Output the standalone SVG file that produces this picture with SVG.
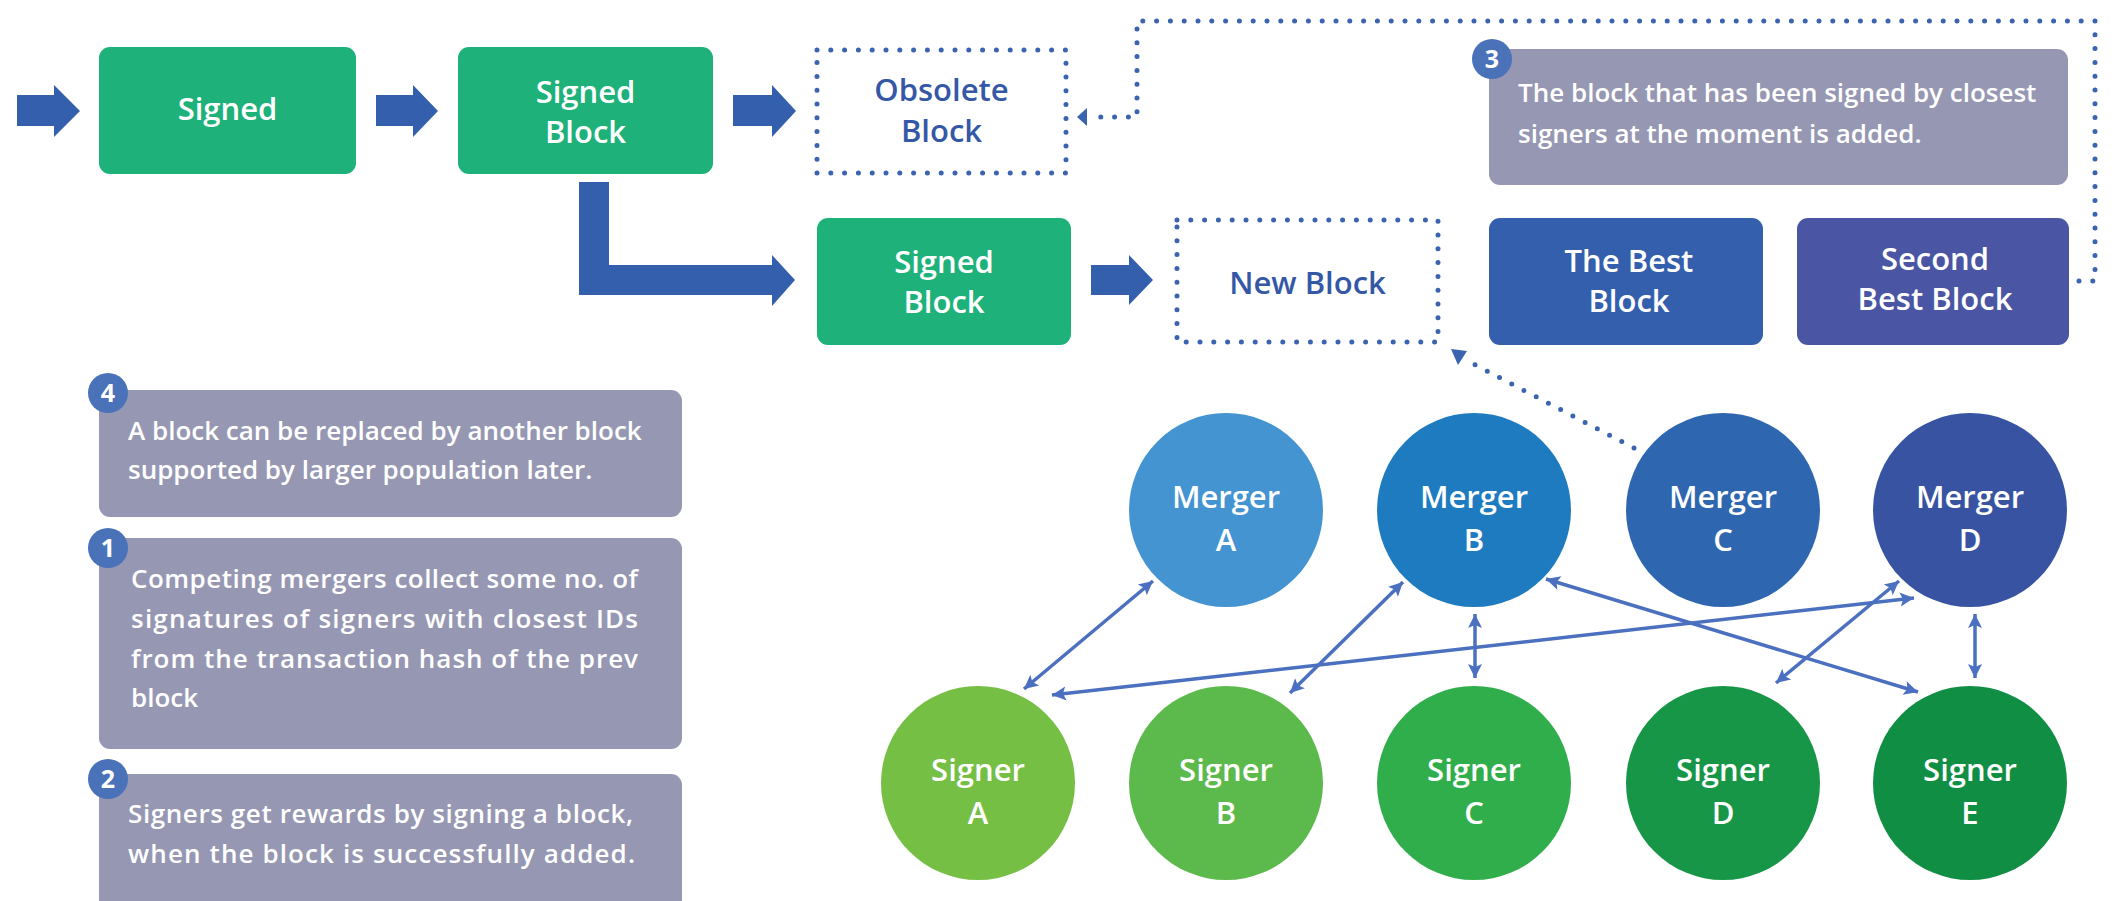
<svg xmlns="http://www.w3.org/2000/svg" width="2117" height="901" viewBox="0 0 2117 901">
<style>
text{font-family:"Open Sans","Liberation Sans",sans-serif;font-weight:600}
.w{fill:#ffffff}
.lbl{font-size:31px;text-anchor:middle}
.blue{fill:#3558a6}
.note{font-size:26px;fill:#ffffff}
.badge{fill:#4a72b9}
.bnum{font-size:25px;fill:#ffffff;text-anchor:middle;font-weight:700}
.gray{fill:#9697b2}
.green{fill:#1eb17a}
.fat{fill:#345fad}
.dots{fill:none;stroke:#3a63b0;stroke-width:5;stroke-linecap:round;stroke-dasharray:0 13.8}
.thin{fill:none;stroke:#4a70bf;stroke-width:3.5;marker-start:url(#ah);marker-end:url(#ah)}
</style>
<defs>
<marker id="ah" markerUnits="userSpaceOnUse" markerWidth="18" markerHeight="18" viewBox="0 0 18 18" refX="16" refY="9" orient="auto-start-reverse">
<path d="M16 9 L2 2 L5 9 L2 16 Z" fill="#4a70bf"/>
</marker>
</defs>

<g id="connectors">
<polygon class="fat" points="17,95 54,95 54,85 80,111 54,137 54,126 17,126"/>
<polygon class="fat" points="376,95 413,95 413,85 438,111 413,137 413,126 376,126"/>
<polygon class="fat" points="733,95 772,95 772,85 796,111 772,137 772,126 733,126"/>
<polygon class="fat" points="579,182 609,182 609,265 772,265 772,255 795,280 772,306 772,295 579,295"/>
<polygon class="fat" points="1091,265 1129,265 1129,255 1153,280 1129,305 1129,295 1091,295"/>
<path class="dots" d="M2079 281 L2095 281 L2095 21 L1137 21 L1137 117 L1096 117"/>
<path d="M1087 108 L1077 117 L1087 126 Z" fill="#3a63b0"/>
<path class="dots" d="M1634 448 L1464 359"/>
<path d="M1451 349 L1467 351 L1458 365 Z" fill="#3a63b0"/>
<line class="thin" x1="1153" y1="581" x2="1024" y2="689"/>
<line class="thin" x1="1403" y1="582" x2="1290" y2="693"/>
<line class="thin" x1="1475" y1="614" x2="1475" y2="678"/>
<line class="thin" x1="1546" y1="579" x2="1918" y2="692"/>
<line class="thin" x1="1914" y1="598" x2="1052" y2="695"/>
<line class="thin" x1="1899" y1="581" x2="1776" y2="683"/>
<line class="thin" x1="1975" y1="614" x2="1975" y2="678"/>
</g>

<g id="signed1">
<rect class="green" x="99" y="47" width="257" height="127" rx="11"/>
<text class="lbl w" x="227.5" y="120">Signed</text>
</g>
<g id="signedblock1">
<rect class="green" x="458" y="47" width="255" height="127" rx="11"/>
<text class="lbl w" x="585.5" y="103">Signed</text>
<text class="lbl w" x="585.5" y="143">Block</text>
</g>
<g id="obsolete">
<rect class="dots" x="817" y="50" width="249" height="123"/>
<text class="lbl blue" x="941.5" y="101">Obsolete</text>
<text class="lbl blue" x="941.5" y="142">Block</text>
</g>
<g id="signedblock2">
<rect class="green" x="817" y="218" width="254" height="127" rx="11"/>
<text class="lbl w" x="944" y="273">Signed</text>
<text class="lbl w" x="944" y="313">Block</text>
</g>
<g id="newblock">
<rect class="dots" x="1177" y="220" width="261" height="122"/>
<text class="lbl blue" x="1307.5" y="294">New Block</text>
</g>
<g id="bestblock">
<rect x="1489" y="218" width="274" height="127" rx="11" fill="#345fad"/>
<text class="lbl w" x="1629" y="272">The Best</text>
<text class="lbl w" x="1629" y="312">Block</text>
</g>
<g id="secondbest">
<rect x="1797" y="218" width="272" height="127" rx="11" fill="#4a55a3"/>
<text class="lbl w" x="1935" y="270">Second</text>
<text class="lbl w" x="1935" y="310">Best Block</text>
</g>

<g id="note3">
<rect class="gray" x="1489" y="49" width="579" height="136" rx="11"/>
<circle class="badge" cx="1492" cy="59" r="20"/>
<text class="bnum" x="1492" y="68">3</text>
<text class="note" x="1518" y="102">The block that has been signed by closest</text>
<text class="note" x="1518" y="143">signers at the moment is added.</text>
</g>
<g id="note4">
<rect class="gray" x="99" y="390" width="583" height="127" rx="11"/>
<circle class="badge" cx="108" cy="393" r="20"/>
<text class="bnum" x="108" y="402">4</text>
<text class="note" x="128" y="440">A block can be replaced by another block</text>
<text class="note" x="128" y="479">supported by larger population later.</text>
</g>
<g id="note1">
<rect class="gray" x="99" y="538" width="583" height="211" rx="11"/>
<circle class="badge" cx="108" cy="548" r="20"/>
<text class="bnum" x="108" y="557">1</text>
<text class="note" x="131" y="588" textLength="507" lengthAdjust="spacing">Competing mergers collect some no. of</text>
<text class="note" x="131" y="628" textLength="507" lengthAdjust="spacing">signatures of signers with closest IDs</text>
<text class="note" x="131" y="668" textLength="507" lengthAdjust="spacing">from the transaction hash of the prev</text>
<text class="note" x="131" y="707">block</text>
</g>
<g id="note2">
<rect class="gray" x="99" y="774" width="583" height="150" rx="11"/>
<circle class="badge" cx="108" cy="779" r="20"/>
<text class="bnum" x="108" y="788">2</text>
<text class="note" x="128" y="823" textLength="505" lengthAdjust="spacing">Signers get rewards by signing a block,</text>
<text class="note" x="128" y="863" textLength="507" lengthAdjust="spacing">when the block is successfully added.</text>
</g>

<g id="mergerA"><circle cx="1226" cy="510" r="97" fill="#4394d0"/><text class="lbl w" x="1226" y="508">Merger</text><text class="lbl w" x="1226" y="551">A</text></g>
<g id="mergerB"><circle cx="1474" cy="510" r="97" fill="#1f7bbf"/><text class="lbl w" x="1474" y="508">Merger</text><text class="lbl w" x="1474" y="551">B</text></g>
<g id="mergerC"><circle cx="1723" cy="510" r="97" fill="#2e66b0"/><text class="lbl w" x="1723" y="508">Merger</text><text class="lbl w" x="1723" y="551">C</text></g>
<g id="mergerD"><circle cx="1970" cy="510" r="97" fill="#3753a2"/><text class="lbl w" x="1970" y="508">Merger</text><text class="lbl w" x="1970" y="551">D</text></g>

<g id="signerA"><circle cx="978" cy="783" r="97" fill="#76bf45"/><text class="lbl w" x="978" y="781">Signer</text><text class="lbl w" x="978" y="824">A</text></g>
<g id="signerB"><circle cx="1226" cy="783" r="97" fill="#5cb94b"/><text class="lbl w" x="1226" y="781">Signer</text><text class="lbl w" x="1226" y="824">B</text></g>
<g id="signerC"><circle cx="1474" cy="783" r="97" fill="#30ae4b"/><text class="lbl w" x="1474" y="781">Signer</text><text class="lbl w" x="1474" y="824">C</text></g>
<g id="signerD"><circle cx="1723" cy="783" r="97" fill="#179647"/><text class="lbl w" x="1723" y="781">Signer</text><text class="lbl w" x="1723" y="824">D</text></g>
<g id="signerE"><circle cx="1970" cy="783" r="97" fill="#108e43"/><text class="lbl w" x="1970" y="781">Signer</text><text class="lbl w" x="1970" y="824">E</text></g>
</svg>
